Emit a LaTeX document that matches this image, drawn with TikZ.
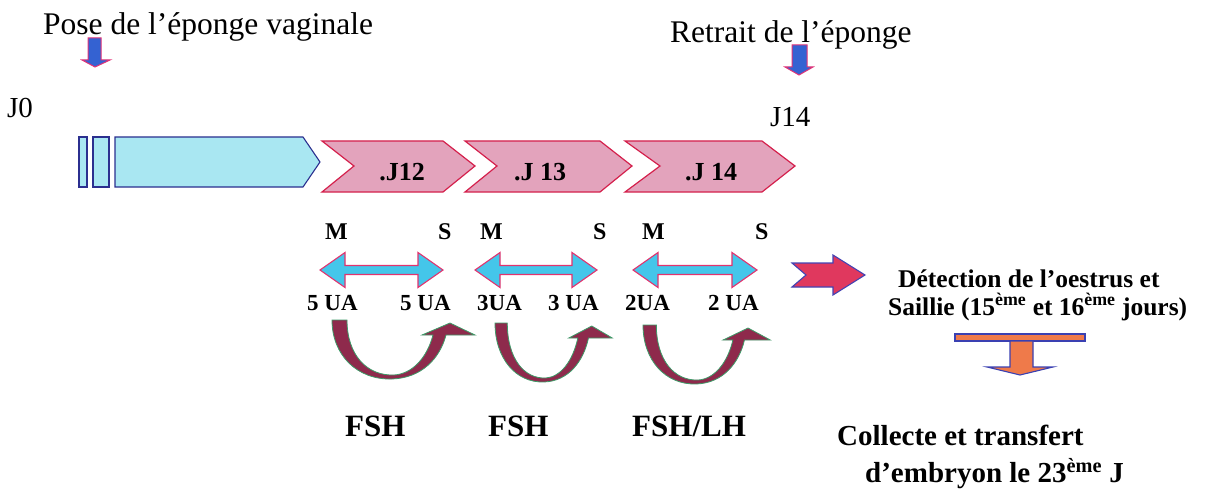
\documentclass[tikz,border=0pt]{standalone}
\usepackage{fontspec}
\setmainfont{Liberation Serif}
\definecolor{barfill}{HTML}{A9E7F2}
\definecolor{barline}{HTML}{2B2F8F}
\definecolor{chevfill}{HTML}{E3A3BC}
\definecolor{chevline}{HTML}{D4204C}
\definecolor{dblfill}{HTML}{44C6EA}
\definecolor{dblline}{HTML}{E2336E}
\definecolor{curvfill}{HTML}{8E2A4C}
\definecolor{curvline}{HTML}{3E9A68}
\definecolor{bluefill}{HTML}{3462D2}
\definecolor{blueline}{HTML}{E23276}
\definecolor{redfill}{HTML}{E0385E}
\definecolor{redline}{HTML}{4343B3}
\definecolor{orfill}{HTML}{EF7A4A}
\definecolor{orline}{HTML}{3A40B2}
\tikzset{
  txt/.style={inner sep=0pt, anchor=base west},
  big/.style={txt, font=\fontsize{31.5}{36}\selectfont},
  day/.style={txt, font=\fontsize{29}{34}\selectfont},
  chevlbl/.style={inner sep=0pt, anchor=base, font=\bfseries\fontsize{26}{30}\selectfont},
  mslbl/.style={txt, font=\bfseries\fontsize{24}{28}\selectfont},
  ualbl/.style={txt, font=\bfseries\fontsize{23}{27}\selectfont},
  hormlbl/.style={txt, font=\bfseries\fontsize{31}{36}\selectfont},
  rtxt/.style={txt, font=\bfseries\fontsize{25.5}{30}\selectfont},
  ctxt/.style={txt, font=\bfseries\fontsize{29}{34}\selectfont},
  spongebar/.style={fill=barfill, draw=barline, line width=1.1pt, line join=miter},
  chev/.style={fill=chevfill, draw=chevline, line width=1.2pt, line join=miter},
  dbl/.style={fill=dblfill, draw=dblline, line width=1.1pt, line join=miter},
  curv/.style={fill=curvfill, draw=curvline, line width=0.8pt},
  downblue/.style={fill=bluefill, draw=blueline, line width=1pt},
  redarr/.style={fill=redfill, draw=redline, line width=1.1pt},
  orarr/.style={fill=orfill, draw=orline, line width=1.1pt},
}
\begin{document}
\begin{tikzpicture}[x=1pt, y=-1pt]
\useasboundingbox (0,0) rectangle (1205,492);

% top captions and their markers
\node[big] (pose) at (43,35) {Pose de l’éponge vaginale};
\node[big] (retrait) at (670,43) {Retrait de l’éponge};
\draw[downblue] (88,38) -- (101,38) -- (101,60) -- (110,60) -- (95,67) -- (82,60) -- (88,60) -- cycle;
\draw[downblue] (792,45) -- (807,45) -- (807,67) -- (813,67) -- (799,75) -- (785,67) -- (792,67) -- cycle;
\node[day] (j0) at (7,118) {J0};
\node[day] (j14) at (770,127) {J14};

% sponge period
\draw[spongebar] (79,137) rectangle (87,187);
\draw[spongebar] (93,137) rectangle (109,187);
\draw[spongebar] (115,137) -- (303,137) -- (320,162) -- (303,187) -- (115,187) -- cycle;

% treatment days
\draw[chev] (322,141) -- (443,141) -- (475,166) -- (443,192) -- (322,192) -- (354,166) -- cycle;
\draw[chev] (465,141) -- (600,141) -- (632,166) -- (600,192) -- (465,192) -- (497,166) -- cycle;
\draw[chev] (625,141) -- (762,141) -- (795,166) -- (762,192) -- (625,192) -- (660,166) -- cycle;
\node[chevlbl] (d12) at (402,180) {.J12};
\node[chevlbl] (d13) at (540,180) {.J 13};
\node[chevlbl] (d14) at (711,180) {.J 14};

% morning / evening
\node[mslbl] (m1) at (325,239) {M};
\node[mslbl] (s1) at (438,239) {S};
\node[mslbl] (m2) at (480,239) {M};
\node[mslbl] (s2) at (593,239) {S};
\node[mslbl] (m3) at (642,239) {M};
\node[mslbl] (s3) at (755,239) {S};

% double arrows between the two injections of each day
\foreach \l/\r in {320/443, 475/597, 633/757} {
  \draw[dbl] (\l,270) -- ({\l+25},252.5) -- ({\l+25},265.5) -- ({\r-25},265.5)
    -- ({\r-25},252.5) -- (\r,270) -- ({\r-25},287.5) -- ({\r-25},274.5)
    -- ({\l+25},274.5) -- ({\l+25},287.5) -- cycle;
}

% doses
\node[ualbl] (u1) at (307,310) {5 UA};
\node[ualbl] (u2) at (400,310) {5 UA};
\node[ualbl] (u3) at (477,310) {3UA};
\node[ualbl] (u4) at (548,310) {3 UA};
\node[ualbl] (u5) at (625,310) {2UA};
\node[ualbl] (u6) at (708,310) {2 UA};

% curved block arrows from morning to evening dose
\foreach \x/\y/\s in {332/320/1, 495/323/0.82, 643/325/0.89} {
  \begin{scope}[shift={(\x,\y)}, xscale=\s]
    \draw[curv] (0,0) .. controls (0,35) and (25,60) .. (60,59)
      .. controls (90,58) and (108,38) .. (114,15)
      -- (143,15) -- (118,3) -- (90,15) -- (101,15)
      .. controls (95,38) and (80,54) .. (62,55)
      .. controls (35,56) and (15,35) .. (15,0) -- cycle;
  \end{scope}
}

% hormones
\node[hormlbl] (h1) at (345,436) {FSH};
\node[hormlbl] (h2) at (488,436) {FSH};
\node[hormlbl] (h3) at (632,436) {FSH/LH};

% outcome
\draw[redarr] (792,263) -- (833,263) -- (833,255) -- (865,275) -- (833,295) -- (833,287) -- (792,287) -- (806,275) -- cycle;
\node[rtxt] (det) at (898,287) {Détection de l’oestrus et};
\node[rtxt] (sail) at (888,315) {Saillie (15\textsuperscript{ème} et 16\textsuperscript{ème} jours)};
\draw[orarr] (955,334) rectangle (1085,341);
\draw[orarr] (1010,341) -- (1033,341) -- (1033,367) -- (1053,367) -- (1020,375) -- (987,367) -- (1010,367) -- cycle;
\node[ctxt] (coll) at (837,445) {Collecte et transfert};
\node[ctxt] (emb) at (865,482) {d’embryon le 23\textsuperscript{ème} J};
\end{tikzpicture}
\end{document}
